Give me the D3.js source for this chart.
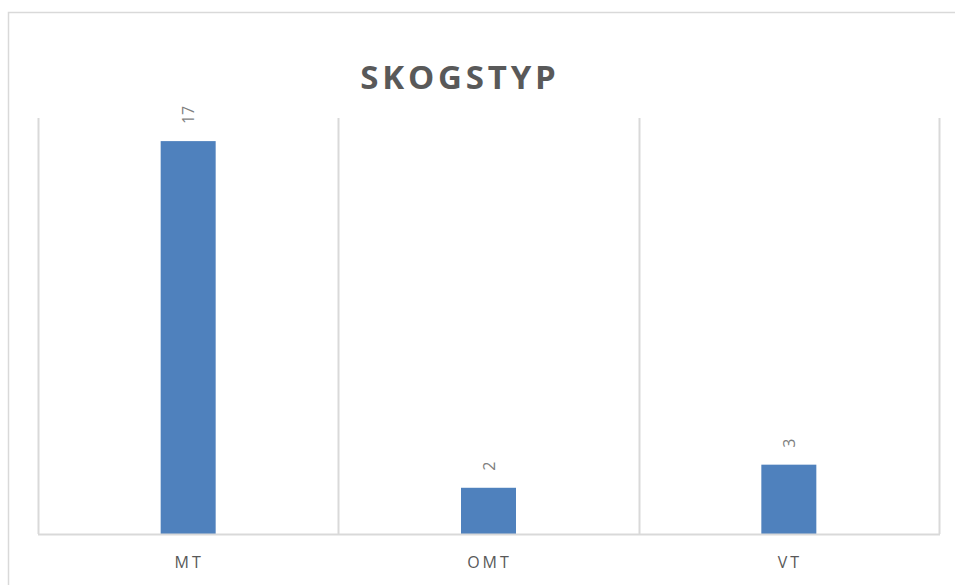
<!DOCTYPE html>
<html>
<head>
<meta charset="utf-8">
<script src="https://cdn.jsdelivr.net/npm/d3@7"></script>
<style>
  body { margin: 0; background: #fff; }
  svg { display: block; }
</style>
</head>
<body>
<div id="chart"></div>
<script>
// DATA
var categories = ["MT", "OMT", "VT"];
var values = [17, 2, 3];
var title = "SKOGSTYP";

var svgWidth = 955, svgHeight = 585;
var margins = { top: 118, bottom: 51, left: 38, right: 16 };
var width = svgWidth - margins.left - margins.right;
var height = svgHeight - margins.top - margins.bottom;

var svg = d3.select("#chart")
    .append("svg")
        .attr("width", svgWidth)
        .attr("height", svgHeight);

// Chart border
svg.append("rect")
    .attr("x", 8.5)
    .attr("y", 12.5)
    .attr("width", 960)
    .attr("height", 600)
    .attr("fill", "none")
    .attr("stroke", "#d9d9d9")
    .attr("stroke-width", 1.5);

// Title
svg.append("text")
    .attr("x", 460)
    .attr("y", 89)
    .attr("text-anchor", "middle")
    .style("font-family", "'Open Sans', sans-serif")
    .style("font-weight", "bold")
    .style("font-size", "33px")
    .style("letter-spacing", "3.8px")
    .style("fill", "#595959")
    .text(title);

var g = svg.append("g")
    .attr("transform", "translate(" + margins.left + "," + margins.top + ")");

var x = d3.scaleBand()
    .domain(categories)
    .range([0, width])
    .paddingInner(0)
    .paddingOuter(0);

var y = d3.scaleLinear()
    .domain([0, 18])
    .range([height, 0]);

// Vertical gridlines at band boundaries
var bounds = categories.map(d => x(d)).concat([width]);
g.selectAll(".grid")
    .data(bounds)
    .enter()
    .append("line")
        .attr("x1", d => Math.round(d) + 0.5)
        .attr("x2", d => Math.round(d) + 0.5)
        .attr("y1", 0)
        .attr("y2", height)
        .attr("stroke", "#d9d9d9")
        .attr("stroke-width", 2);

// Bars
var barW = 55;
g.selectAll(".bar")
    .data(values)
    .enter()
    .append("rect")
        .attr("x", (d, i) => x(categories[i]) + x.bandwidth() / 2 - barW / 2)
        .attr("y", d => y(d))
        .attr("width", barW)
        .attr("height", d => height - y(d))
        .attr("fill", "#4f81bd");

// Baseline
g.append("line")
    .attr("x1", 0)
    .attr("x2", width + 1)
    .attr("y1", height + 0.5)
    .attr("y2", height + 0.5)
    .attr("stroke", "#d9d9d9")
    .attr("stroke-width", 2);

// Data labels (rotated)
g.selectAll(".lbl")
    .data(values)
    .enter()
    .append("text")
        .attr("transform", (d, i) => "translate(" + (x(categories[i]) + x.bandwidth() / 2 + 6) + "," + (y(d) - 17) + ") rotate(-90)")
        .attr("text-anchor", "start")
        .style("font-family", "'Open Sans', sans-serif")
        .style("font-size", "16px")
        .style("fill", "#7f7f7f")
        .text(d => d);

// Category labels
g.selectAll(".cat")
    .data(categories)
    .enter()
    .append("text")
        .attr("x", d => x(d) + x.bandwidth() / 2 + 1)
        .attr("y", height + 34)
        .attr("text-anchor", "middle")
        .style("font-family", "'Open Sans', sans-serif")
        .style("font-size", "16px")
        .style("letter-spacing", "3px")
        .style("fill", "#595959")
        .text(d => d);
</script>
</body>
</html>
